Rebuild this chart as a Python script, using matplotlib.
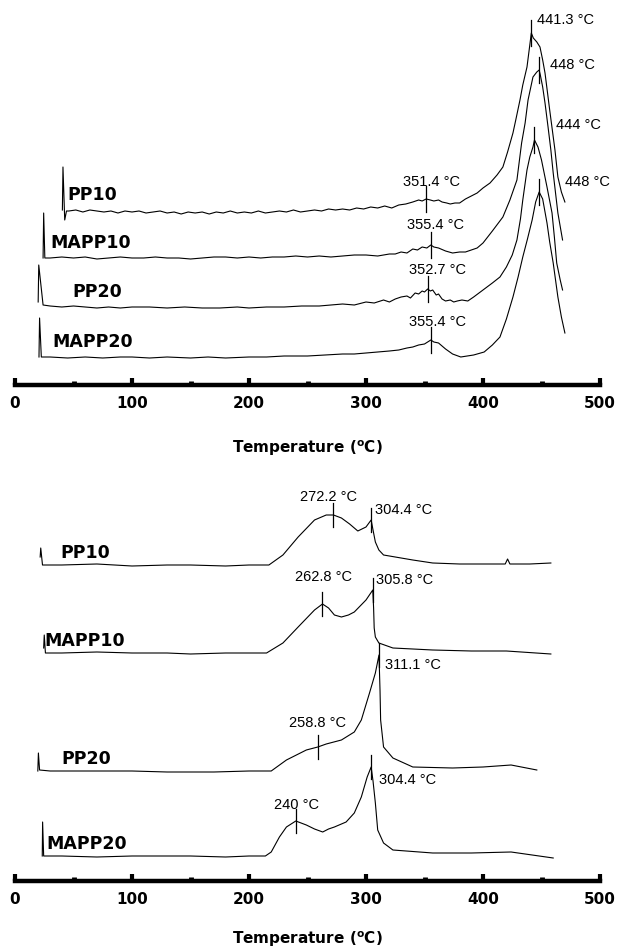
import numpy as np
import matplotlib
matplotlib.use("Agg")
import matplotlib.pyplot as plt
from matplotlib.ticker import MultipleLocator

# DTG curves of the composites, signal in arbitrary units above each baseline
SAMPLES = ["PP10", "MAPP10", "PP20", "MAPP20"]

# --- upper panel ---
pp10_a_t = [40.5, 41, 42.5, 44, 46, 52, 58, 64, 70, 76, 82, 88, 94, 100, 106, 112, 118, 124, 130,
            136, 142, 148, 154, 160, 166, 172, 178, 184, 190, 196, 202, 208, 214, 220, 226, 232,
            238, 244, 250, 256, 262, 268, 274, 280, 286, 292, 298, 304, 310, 316, 322, 328, 334,
            340, 345, 348, 351.4, 355, 358, 362, 365, 369, 372, 376, 380, 385, 390, 395, 400, 406,
            412, 417, 421, 425.6, 428, 431.6, 434, 437.6, 440, 441.3, 443, 446, 448.7, 451, 453,
            457, 461.5, 464, 467, 470]
pp10_a_s = [0, 43, -10, -1, -1, 0, -2, 0, -1, -2, -1, -3, -1, -2, -1, -3, -2, -1, -3,
            -2, -4, -2, -3, -2, -4, -2, -3, -1, -3, -2, -3, -1, -3, -2, -1, -2,
            0, -2, -1, 0, -1, 1, 0, 1, 0, 2, 1, 3, 2, 4, 2, 5, 6,
            8, 10, 9, 11, 10, 9, 10, 8, 7, 6, 7, 7, 11, 14, 17, 22, 27,
            35, 43, 58, 77, 90, 110, 125, 143, 165, 177, 172, 168, 163, 150, 137,
            100, 60, 33, 18, 8]

mapp10_a_t = [24, 24.5, 25.5, 30, 40, 50, 60, 70, 80, 90, 100, 110, 120, 130, 140, 150, 160, 170,
              180, 190, 200, 210, 220, 230, 240, 250, 260, 270, 280, 290, 300, 310, 320, 325, 330,
              335, 340, 344, 348, 352, 355.4, 358, 362, 368, 374, 380, 385, 390, 395, 400, 408,
              417, 423, 429, 433, 436, 438.5, 442.7, 446, 448, 449, 451, 453, 455.6, 458, 460,
              464, 468]
mapp10_a_s = [0, 45, 0, 0, 1, 0, 1, -1, 0, 1, 0, 0, 1, 0, 0, -1, 0, 1,
              1, 0, 1, 0, 1, 1, 2, 1, 2, 1, 2, 3, 3, 2, 4, 4, 6,
              5, 9, 8, 11, 10, 13, 11, 10, 7, 5, 6, 6, 8, 10, 15, 27,
              41, 58, 78, 115, 135, 158, 181, 186, 188, 183, 171, 155, 131, 108, 85,
              45, 18]

pp20_a_t = [19.8, 20.3, 24, 30, 40, 50, 60, 70, 80, 90, 100, 115, 130, 145, 160, 175, 190, 200,
            215, 230, 245, 260, 270, 280, 290, 300, 307, 315, 320, 325, 330, 335, 338, 342, 345,
            348, 350, 352.7, 355, 357, 360, 362, 365, 368, 372, 375, 378, 382, 387, 392, 400,
            408, 414.5, 420, 425, 429, 432, 434, 437.6, 440, 442.7, 444, 447, 450, 454.7, 459,
            461, 463, 466, 468]
pp20_a_s = [5, 42, 2, 1, 0, 1, 0, -1, 0, -1, 0, 0, -1, 0, -1, -1, 0, -1,
            0, 0, 1, 1, 2, 3, 2, 5, 4, 7, 5, 8, 10, 11, 9, 14, 13,
            16, 15, 18, 16, 17, 12, 13, 8, 6, 7, 5, 6, 7, 6, 10, 17,
            24, 30, 40, 52, 67, 88, 107, 137, 150, 160, 167, 160, 147, 120, 94,
            70, 44, 27, 17]

mapp20_a_t = [20.5, 21, 22.5, 30, 45, 60, 75, 90, 100, 115, 130, 150, 165, 180, 200, 215, 230, 250,
              265, 280, 290, 300, 310, 320, 328, 335, 340, 345, 350, 355.4, 358, 362, 368, 374,
              381, 392, 401, 408, 414.5, 420, 425.6, 430, 434, 438, 442, 445, 448, 451, 454.7,
              457, 460, 464, 467, 470]
mapp20_a_s = [0, 39, 0, 0, -1, 0, -1, 0, 0, -1, 0, -1, 0, -1, 0, 0, 1, 1,
              2, 3, 3, 4, 5, 6, 7, 9, 10, 12, 13, 17, 15, 14, 8, 3,
              0, 2, 5, 12, 20, 38, 60, 80, 100, 118, 137, 155, 165, 158, 134,
              115, 94, 60, 40, 24]

# --- lower panel ---
pp10_b_t = [21.5, 22, 23.5, 40, 70, 100, 130, 150, 180, 200, 217, 229, 242, 256, 266, 272.2, 279,
            286, 293, 300, 304.4, 306, 308, 311, 315, 325, 340, 357, 380, 400, 419, 421, 423, 440, 458]
pp10_b_s = [8, 17, 0, 0, 1, -1, 0, 0, -1, 0, 0, 10, 28, 45, 50, 50, 47,
            41, 34, 38, 45, 35, 23, 15, 10, 8, 5, 2, 1, 1, 1, 6, 1, 1, 2]

mapp10_b_t = [24.5, 25, 26, 40, 70, 100, 130, 150, 180, 200, 215, 229, 242, 256, 262.8, 268, 273,
              279, 285, 290, 300, 305.8, 306.5, 307, 308, 311, 323, 357, 390, 420, 458]
mapp10_b_s = [5, 18, 0, 0, 1, 0, 0, -1, 0, 0, 0, 10, 26, 43, 49, 45, 38,
              36, 38, 41, 53, 63, 45, 25, 16, 10, 5, 3, 2, 2, -1]

pp20_b_t = [19.5, 20, 21, 30, 70, 100, 130, 150, 170, 200, 219, 232, 249, 258.8, 266, 279, 290, 296,
            303, 308, 311.1, 312, 312.5, 315, 323, 340, 374, 400, 424, 446]
pp20_b_s = [0, 18, 1, 0, 0, 0, -1, -1, -1, 0, 0, 11, 21, 24, 27, 31, 39, 51,
            78, 98, 116, 80, 51, 24, 13, 4, 3, 4, 6, 1]

mapp20_b_t = [23.3, 23.6, 24.5, 40, 70, 100, 130, 150, 180, 200, 214, 219, 226, 232, 240, 249, 256,
              263, 268, 273, 283, 290, 296, 301, 304.4, 306, 308, 310, 315, 323, 357, 390, 424, 460]
mapp20_b_s = [0, 34, 0, 0, -1, 0, 0, 0, -1, 0, 0, 4, 19, 29, 35, 31, 27,
              24, 27, 29, 34, 43, 59, 79, 89, 75, 53, 26, 13, 6, 3, 3, 4, -2]

TOP_CURVES = [(pp10_a_t, pp10_a_s), (mapp10_a_t, mapp10_a_s), (pp20_a_t, pp20_a_s), (mapp20_a_t, mapp20_a_s)]
BOT_CURVES = [(pp10_b_t, pp10_b_s), (mapp10_b_t, mapp10_b_s), (pp20_b_t, pp20_b_s), (mapp20_b_t, mapp20_b_s)]

# stacking offsets of the curves
TOP_OFFSETS = [175, 127, 78, 28]
BOT_OFFSETS = [316, 228, 110, 25]

# peak temperatures (deg C)
TOP_PEAKS = [[351.4, 441.3], [355.4, 448], [352.7, 444], [355.4, 448]]
BOT_PEAKS = [[272.2, 304.4], [262.8, 305.8], [258.8, 311.1], [240, 304.4]]

# label placement: (dx in deg C, dy, horizontal alignment)
TOP_LABEL_POS = [[(4.6, 17, "center"), (4.7, 13, "left")],
                 [(3.6, 20, "center"), (9, 5, "left")],
                 [(8, 19, "center"), (18.5, 15, "left")],
                 [(5.6, 18, "center"), (22, 10, "left")]]
BOT_LABEL_POS = [[(-4, 18, "center"), (3.6, 10, "left")],
                 [(1, 27, "center"), (3, 10, "left")],
                 [(0, 24, "center"), (5, -10, "left")],
                 [(1, 16, "center"), (6.6, -13, "left")]]

TOP_NAME_X = [45, 30, 49, 32]
BOT_NAME_X = [38.5, 25, 40, 27]

W, H = 618, 951
fig = plt.figure(figsize=(W / 100, H / 100), dpi=100)


def panel(rect, ylim, curves, offsets, peaks, label_pos, name_x, name_dy, half, xpad):
    ax = fig.add_axes(rect)
    for (t, s), off, pk, lp, nx, name in zip(curves, offsets, peaks, label_pos, name_x, SAMPLES):
        t = np.asarray(t, float)
        y = np.asarray(s, float) + off
        ax.plot(t, y, color="black", lw=0.8)
        for p, (dx, dy, ha) in zip(pk, lp):
            yc = np.interp(p, t, y)
            ax.plot([p, p], [yc - half, yc + half], color="black", lw=0.9)
            ax.text(p + dx, yc + dy, f"{p:g} °C", ha=ha, va="center",
                    fontsize=10.5, family="Liberation Sans")
        ax.text(nx, off + name_dy, name, ha="left", va="center",
                fontsize=12.5, fontweight="bold", family="DejaVu Sans")

    ax.set_xlim(0, 500)
    ax.set_ylim(*ylim)
    for sp in ["left", "right", "top"]:
        ax.spines[sp].set_visible(False)
    ax.spines["bottom"].set_linewidth(3.2)
    ax.set_yticks([])
    ax.xaxis.set_major_locator(MultipleLocator(100))
    ax.xaxis.set_minor_locator(MultipleLocator(50))
    ax.tick_params(axis="x", which="major", direction="in", length=5, width=3,
                   pad=8, labelsize=11)
    ax.tick_params(axis="x", which="minor", direction="in", length=3, width=3.5)
    for lbl in ax.get_xticklabels():
        lbl.set_fontweight("bold")
        lbl.set_family("DejaVu Sans")
    ax.set_xlabel(r"Temperature ($^{\mathbf{o}}$C)", fontsize=11, fontweight="bold",
                  labelpad=xpad)
    ax.patch.set_alpha(0)
    return ax


left = 15 / W
width = 585 / W
panel([left, (H - 385) / H, width, 385 / H], (0, 385), TOP_CURVES, TOP_OFFSETS,
      TOP_PEAKS, TOP_LABEL_POS, TOP_NAME_X, 15, 13, 20)
panel([left, (H - 881) / H, width, 411 / H], (0, 411), BOT_CURVES, BOT_OFFSETS,
      BOT_PEAKS, BOT_LABEL_POS, BOT_NAME_X, 12, 12, 16)

fig.savefig("out.png", dpi=100)
